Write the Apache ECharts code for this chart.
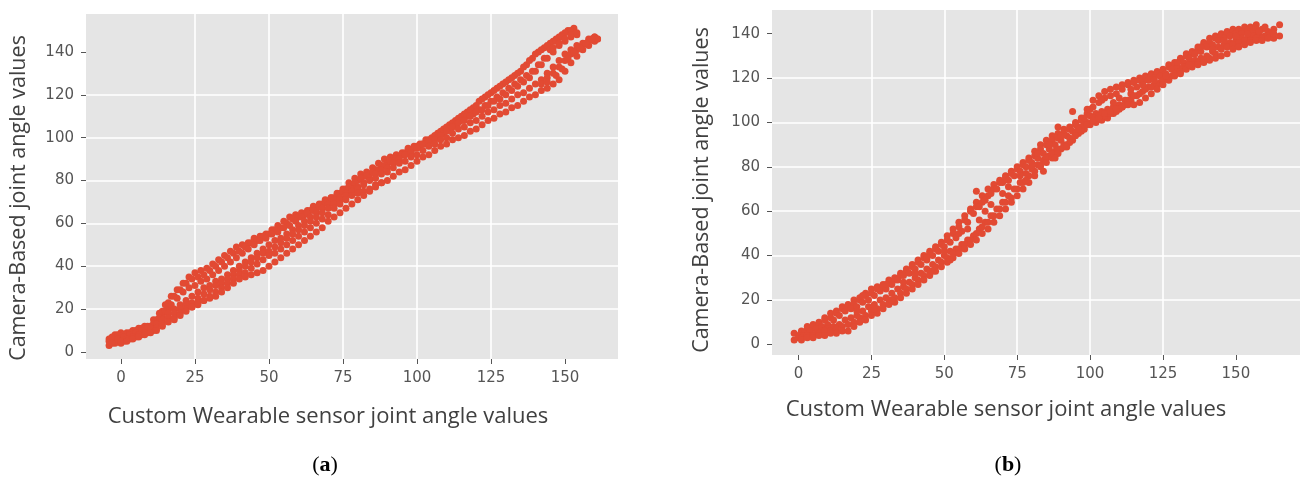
<!DOCTYPE html>
<html><head><meta charset="utf-8">
<script src="https://cdn.jsdelivr.net/npm/echarts@6/dist/echarts.min.js"></script>
<style>html,body{margin:0;padding:0;background:#fff}#c{width:1301px;height:481px}</style>
</head><body><div id="c"></div>
<script>
const xTicks=[0,25,50,75,100,125,150];
const yTicks=[0,20,40,60,80,100,120,140];
const xTitle='Custom Wearable sensor joint angle values';
const yTitle='Camera-Based joint angle values';
const panelLabels=['a','b'];

// Panel (a) strands
const aStart=[[-4,3],[-3,5],[-2,4],[0,4],[1,5],[3,6],[5,7],[7,8],[9,9],[11,10],[-4,6],[-2,8],[0,9],[2,9],[4,10],[6,11],[8,12],[10,12],[12,14],[14,17],[16,20]];
const aS1=[[-4,5],[-3,7],[-1,8],[1,8],[3,9],[5,10],[7,11],[9,12],[11,15],[13,18],[15,22],[17,26],[19,29],[21,32],[23,35],[25,37],[27,38],[29,39],[31,41],[33,43],[35,45],[37,47],[39,49],[41,50],[43,51],[45,53],[47,54],[49,55],[51,57],[53,59],[55,61],[57,63],[59,64],[61,65],[63,66],[65,68],[67,69],[69,71],[71,72],[73,74],[75,76],[77,79],[79,81],[81,83],[83,84],[85,86],[87,88],[89,90],[91,91],[93,92],[95,93],[97,95],[99,96],[101,97],[103,99],[105,100],[107,102],[109,104],[111,106],[113,108],[115,110],[117,112],[119,114],[121,117],[123,119],[125,121],[127,123],[129,125],[131,127],[133,129],[135,131],[137,134],[139,137],[141,140],[143,142],[145,144],[147,146],[149,148],[151,150],[153,151]];
const aS12=[[0,6],[2,7],[4,8],[6,9],[8,10],[10,12],[12,15],[14,19],[16,23],[18,26],[20,29],[22,32],[24,34],[26,35],[28,36],[30,38],[32,40],[34,42],[36,44],[38,46],[40,47],[42,49],[44,51],[46,52],[48,54],[50,55],[52,57],[54,58],[56,60],[58,62],[60,63],[62,64],[64,66],[66,67],[68,69],[70,70],[72,72],[74,74],[76,76],[78,78],[80,80],[82,82],[84,83],[86,85],[88,87],[90,88],[92,90],[94,91],[96,93],[98,94],[100,96],[102,97],[104,99],[106,101],[108,103],[110,105],[112,107],[114,109],[116,111],[118,113],[120,115],[122,118],[124,120],[126,122],[128,124],[130,126],[132,128],[134,130],[136,133],[138,136],[140,139],[142,141],[144,143],[146,145],[148,147],[150,149],[152,150]];
const aS2=[[-3,4],[-1,6],[1,7],[3,8],[5,9],[7,10],[9,11],[11,13],[13,16],[15,19],[17,22],[19,25],[21,28],[23,30],[25,31],[27,33],[29,34],[31,36],[33,38],[35,40],[37,42],[39,44],[41,46],[43,48],[45,50],[47,52],[49,53],[51,55],[53,56],[55,58],[57,59],[59,61],[61,63],[63,65],[65,66],[67,68],[69,70],[71,72],[73,73],[75,75],[77,77],[79,79],[81,81],[83,82],[85,84],[87,85],[89,87],[91,89],[93,90],[95,92],[97,93],[99,95],[101,96],[103,97],[105,99],[107,100],[109,102],[111,104],[113,106],[115,108],[117,110],[119,111],[121,113],[123,115],[125,117],[127,119],[129,121],[131,123],[133,125],[135,127],[137,129],[139,131],[141,134],[143,137],[145,141],[147,145],[149,147]];
const aS3=[[0,5],[2,6],[4,7],[6,8],[8,9],[10,11],[12,13],[14,15],[16,18],[18,20],[20,22],[22,24],[24,26],[26,28],[28,30],[30,31],[32,33],[34,34],[36,36],[38,38],[40,40],[42,42],[44,44],[46,46],[48,48],[50,50],[52,52],[54,53],[56,55],[58,57],[60,59],[62,61],[64,63],[66,65],[68,67],[70,69],[72,71],[74,72],[76,74],[78,76],[80,77],[82,79],[84,81],[86,83],[88,85],[90,86],[92,88],[94,90],[96,92],[98,93],[100,95],[102,97],[104,98],[106,99],[108,101],[110,103],[112,105],[114,107],[116,108],[118,110],[120,112],[122,113],[124,115],[126,117],[128,118],[130,120],[132,122],[134,124],[136,126],[138,128],[140,131],[142,134],[144,137],[146,140],[148,143],[150,145],[152,147],[154,148]];
const aS34=[[12,11],[14,13],[16,16],[18,18],[20,20],[22,22],[24,23],[26,25],[28,27],[30,29],[32,31],[34,32],[36,34],[38,36],[40,38],[42,40],[44,42],[46,44],[48,46],[50,47],[52,49],[54,51],[56,53],[58,55],[60,57],[62,59],[64,61],[66,63],[68,65],[70,67],[72,69],[74,71],[76,73],[78,75],[80,76],[82,78],[84,80],[86,81],[88,83],[90,84],[92,86],[94,88],[96,89],[98,91],[100,92],[102,94],[104,96],[106,97],[108,99],[110,100],[112,102],[114,104],[116,105],[118,107],[120,108],[122,110],[124,112],[126,113],[128,115],[130,116],[132,118],[134,120],[136,121],[138,123],[140,125],[142,127],[144,130],[146,133],[148,136],[150,139],[152,141],[154,143],[156,144],[158,146],[160,147]];
const aS4=[[2,5],[4,6],[6,7],[8,8],[10,9],[12,10],[14,12],[16,14],[18,16],[20,18],[22,20],[24,21],[26,22],[28,24],[30,26],[32,28],[34,30],[36,32],[38,34],[40,36],[42,37],[44,39],[46,41],[48,43],[50,45],[52,46],[54,48],[56,50],[58,52],[60,54],[62,56],[64,58],[66,60],[68,62],[70,64],[72,67],[74,69],[76,71],[78,73],[80,74],[82,75],[84,76],[86,78],[88,79],[90,80],[92,82],[94,84],[96,85],[98,87],[100,89],[102,91],[104,92],[106,94],[108,96],[110,97],[112,99],[114,100],[116,101],[118,103],[120,104],[122,106],[124,108],[126,109],[128,111],[130,112],[132,114],[134,115],[136,117],[138,119],[140,120],[142,122],[144,123],[146,125],[148,127],[150,131],[152,135],[154,138],[156,141],[158,143],[160,145],[161,146]];
const aS5=[[18,15],[20,17],[22,19],[24,21],[26,23],[28,24],[30,25],[32,26],[34,28],[36,30],[38,32],[40,34],[42,35],[44,36],[46,37],[48,38],[50,40],[52,42],[54,44],[56,46],[58,48],[60,50],[62,52],[64,54],[66,56],[68,58],[70,61],[72,63],[74,65],[76,67],[78,69],[80,71],[82,73],[84,75],[86,77],[88,79]];
const aTop=[[144,128],[146,130],[148,133],[150,136],[152,139],[154,141],[156,143],[158,145],[160,147],[161,146],[146,142],[148,144],[150,146],[152,148],[154,149],[142,125],[144,126],[147,129],[149,132],[151,137],[153,140],[155,142],[157,144],[159,146]];

// Panel (b) strands
const bU=[[-1.5,5],[1,6],[3,8],[5,9],[7,10],[9,12],[11,14],[13,15],[15,17],[17,18],[19,20],[21,21],[23,23],[25,25],[27,26],[29,27],[31,29],[33,30],[35,32],[37,34],[39,36],[41,38],[43,40],[45,42],[47,44],[49,46],[51,49],[53,52],[55,55],[57,58],[59,61],[61,64],[63,67],[65,70],[67,72],[69,74],[71,76],[73,78],[75,80],[77,82],[79,84],[81,87],[83,90],[85,92],[87,94],[89,95],[91,97],[93,98],[95,100],[97,102],[99,106],[101,110],[103,112],[105,114],[107,115],[109,116],[111,117],[113,118],[115,119],[117,120],[119,121],[121,122],[123,123],[125,124],[127,126],[129,127],[131,129],[133,131],[135,132],[137,134],[139,136],[141,138],[143,139],[145,140],[147,141],[149,142],[151,142],[153,143],[155,143],[157,144],[159,142],[161,141],[163,142],[165,144]];
const bM3=[[1,5],[3,7],[5,8],[7,9],[9,11],[11,12],[13,14],[15,16],[17,17],[19,18],[21,20],[23,22],[25,23],[27,25],[29,26],[31,28],[33,29],[35,31],[37,33],[39,35],[41,37],[43,39],[45,41],[47,43],[49,45],[51,47],[53,50],[55,53],[57,56],[59,60],[61,62],[63,64],[65,67],[67,70],[69,73],[71,75],[73,77],[75,79],[77,81],[79,83],[81,85],[83,88],[85,90],[87,92],[89,93],[91,95],[93,97],[95,99],[97,101],[99,104],[101,107],[103,109],[105,111],[107,112],[109,113],[111,115],[113,117],[115,118],[117,119],[119,120],[121,121],[123,122],[125,123],[127,125],[129,126],[131,128],[133,130],[135,131],[137,133],[139,135],[141,136],[143,138],[145,139],[147,140],[149,141],[151,141],[153,142],[155,142],[157,142]];
const bM1=[[0,4],[2,5],[4,6],[6,7],[8,8],[10,9],[12,11],[14,13],[16,15],[18,16],[20,17],[22,19],[24,20],[26,22],[28,24],[30,25],[32,27],[34,29],[36,31],[38,32],[40,34],[42,36],[44,38],[46,40],[48,42],[50,44],[52,46],[54,48],[56,51],[58,55],[60,59],[62,62],[64,65],[66,68],[68,70],[70,73],[72,74],[74,76],[76,78],[78,80],[80,82],[82,84],[84,86],[86,88],[88,90],[90,92],[92,94],[94,96],[96,98],[98,100],[100,103],[102,104],[104,105],[106,106],[108,107],[110,108],[112,110],[114,113],[116,116],[118,118],[120,119],[122,120],[124,121],[126,122],[128,124],[130,125],[132,127],[134,129],[136,131],[138,132],[140,134],[142,135],[144,137],[146,138],[148,139],[150,140],[152,140],[154,141],[156,140],[158,140],[160,139],[162,140]];
const bM2=[[0,3],[2,4],[4,4],[6,5],[8,6],[10,7],[12,8],[14,9],[16,11],[18,12],[20,13],[22,15],[24,17],[26,18],[28,20],[30,21],[32,23],[34,25],[36,26],[38,28],[40,30],[42,32],[44,34],[46,36],[48,38],[50,40],[52,42],[54,43],[56,45],[58,47],[60,49],[62,52],[64,55],[66,58],[68,61],[70,64],[72,67],[74,70],[76,73],[78,77],[80,79],[82,81],[84,83],[86,85],[88,87],[90,88],[92,90],[94,92],[96,95],[98,97],[100,99],[102,100],[104,101],[106,102],[108,104],[110,106],[112,108],[114,110],[116,112],[118,114],[120,116],[122,117],[124,118],[126,120],[128,121],[130,123],[132,125],[134,127],[136,128],[138,129],[140,130],[142,132],[144,134],[146,135],[148,136],[150,137],[152,138],[154,138],[156,139],[158,139]];
const bM4=[[1,3],[3,4],[5,4],[7,5],[9,6],[11,6],[13,7],[15,8],[17,9],[19,10],[21,12],[23,13],[25,15],[27,16],[29,18],[31,20],[33,21],[35,23],[37,25],[39,27],[41,29],[43,31],[45,33],[47,35],[49,37],[51,39],[53,41],[55,43],[57,45],[59,47],[61,50],[63,53],[65,55],[67,58],[69,61],[71,64],[73,66],[75,70],[77,73],[79,76],[81,78],[83,81],[85,84],[87,86],[89,88],[91,90],[93,93],[95,95],[97,98],[99,100],[101,102],[103,103],[105,103],[107,104],[109,105],[111,107],[113,110],[115,112],[117,113],[119,115],[121,116],[123,117],[125,119],[127,120],[129,122],[131,123],[133,125],[135,126],[137,127],[139,128],[141,129],[143,131],[145,133],[147,134],[149,135],[151,136],[153,137],[155,137],[157,138],[159,138],[161,139]];
const bL=[[-1.5,2],[1,2],[3,3],[5,3],[7,4],[9,4],[11,5],[13,5],[15,6],[17,6],[19,8],[21,10],[23,11],[25,13],[27,14],[29,16],[31,18],[33,19],[35,21],[37,23],[39,25],[41,27],[43,29],[45,31],[47,33],[49,35],[51,37],[53,39],[55,41],[57,43],[59,45],[61,47],[63,50],[65,52],[67,55],[69,58],[71,61],[73,64],[75,67],[77,70],[79,73],[81,76],[83,80],[85,82],[87,84],[89,86],[91,89],[93,91],[95,94],[97,96],[99,99],[101,101],[103,102],[105,104],[107,105],[109,106],[111,107],[113,108],[115,108],[117,109],[119,111],[121,113],[123,115],[125,117],[127,119],[129,121],[131,122],[133,124],[135,125],[137,126],[139,127],[141,128],[143,129],[145,130],[147,131],[149,133],[151,134],[153,135],[155,136],[157,137],[159,137],[161,138],[163,138],[165,139]];
const bScatter=[[20,15],[22,22],[26,16],[30,27],[32,20],[36,28],[40,32],[44,39],[46,33],[50,42],[52,38],[55,50],[58,52],[62,56],[64,60],[66,63],[70,68],[72,71],[76,76],[78,74],[80,80],[82,86],[84,78],[86,90],[88,84],[90,94],[92,89],[96,97],[98,102],[100,106],[104,110],[108,109],[110,111],[114,115],[118,117],[122,119],[126,121],[130,127],[134,126],[138,134],[142,133],[146,137],[150,139],[154,140],[158,141],[160,143],[163,140]];
const bOut=[[61,69],[89,98],[94,105]];

const RED='#E24A33';
function xAx(gi,min,max){return {type:'value',gridIndex:gi,min:min,max:max,minInterval:25,maxInterval:25,
  axisLine:{show:false,onZero:false},
  axisTick:{show:true,length:5,lineStyle:{color:'#555',width:1},customValues:xTicks},
  axisLabel:{color:'#555',fontSize:15,fontFamily:'DejaVu Sans',margin:12,customValues:xTicks},
  splitLine:{show:true,showMinLine:false,showMaxLine:false,lineStyle:{color:'#fff',width:1.6}}};}
function yAx(gi,min,max){return {type:'value',gridIndex:gi,min:min,max:max,minInterval:20,maxInterval:20,
  axisLine:{show:false,onZero:false},
  axisTick:{show:true,length:5,lineStyle:{color:'#555',width:1},customValues:yTicks},
  axisLabel:{color:'#555',fontSize:15,fontFamily:'DejaVu Sans',margin:12,customValues:yTicks},
  splitLine:{show:true,showMinLine:false,showMaxLine:false,lineStyle:{color:'#fff',width:1.6}}};}

function txt(x,y,t,rot,fs){return {type:'text',x:x,y:y,rotation:rot||0,style:{text:t,fill:'#404040',fontSize:fs,fontFamily:'Open Sans',textAlign:'center',textVerticalAlign:'middle'}};}
function lab(x,y,l){return {type:'text',x:x,y:y,style:{text:'{p|(}{b|'+l+'}{p|)}',textAlign:'center',textVerticalAlign:'middle',
  rich:{p:{fontSize:22,fontFamily:'Liberation Serif',fill:'#000'},b:{fontSize:22,fontFamily:'Liberation Serif',fontWeight:'bold',fill:'#000'}}}};}

const chart=echarts.init(document.getElementById('c'));
chart.setOption({
  animation:false,
  grid:[
    {left:86,top:14,width:532,height:345,show:true,backgroundColor:'#E5E5E5',borderWidth:0},
    {left:772,top:10,width:528,height:345,show:true,backgroundColor:'#E5E5E5',borderWidth:0}
  ],
  xAxis:[xAx(0,-11.8,167.9),xAx(1,-9.1,172)],
  yAxis:[yAx(0,-3.3,157.7),yAx(1,-4.8,150.7)],
  series:[
    {type:'scatter',xAxisIndex:0,yAxisIndex:0,symbolSize:7,itemStyle:{color:RED,opacity:1},
     data:[].concat(aStart,aS1,aS12,aS2,aS3,aS34,aS4,aS5,aTop)},
    {type:'scatter',xAxisIndex:1,yAxisIndex:1,symbolSize:7,itemStyle:{color:RED,opacity:1},
     data:[].concat(bU,bM3,bM1,bM2,bM4,bL,bScatter,bOut)}
  ],
  graphic:[
    txt(19,198,yTitle,Math.PI/2,21.5),
    txt(702,190,yTitle,Math.PI/2,21.5),
    txt(328,417,xTitle,0,22),
    txt(1006,410,xTitle,0,22),
    lab(325,465,panelLabels[0]),
    lab(1008,465,panelLabels[1])
  ]
});
</script></body></html>
